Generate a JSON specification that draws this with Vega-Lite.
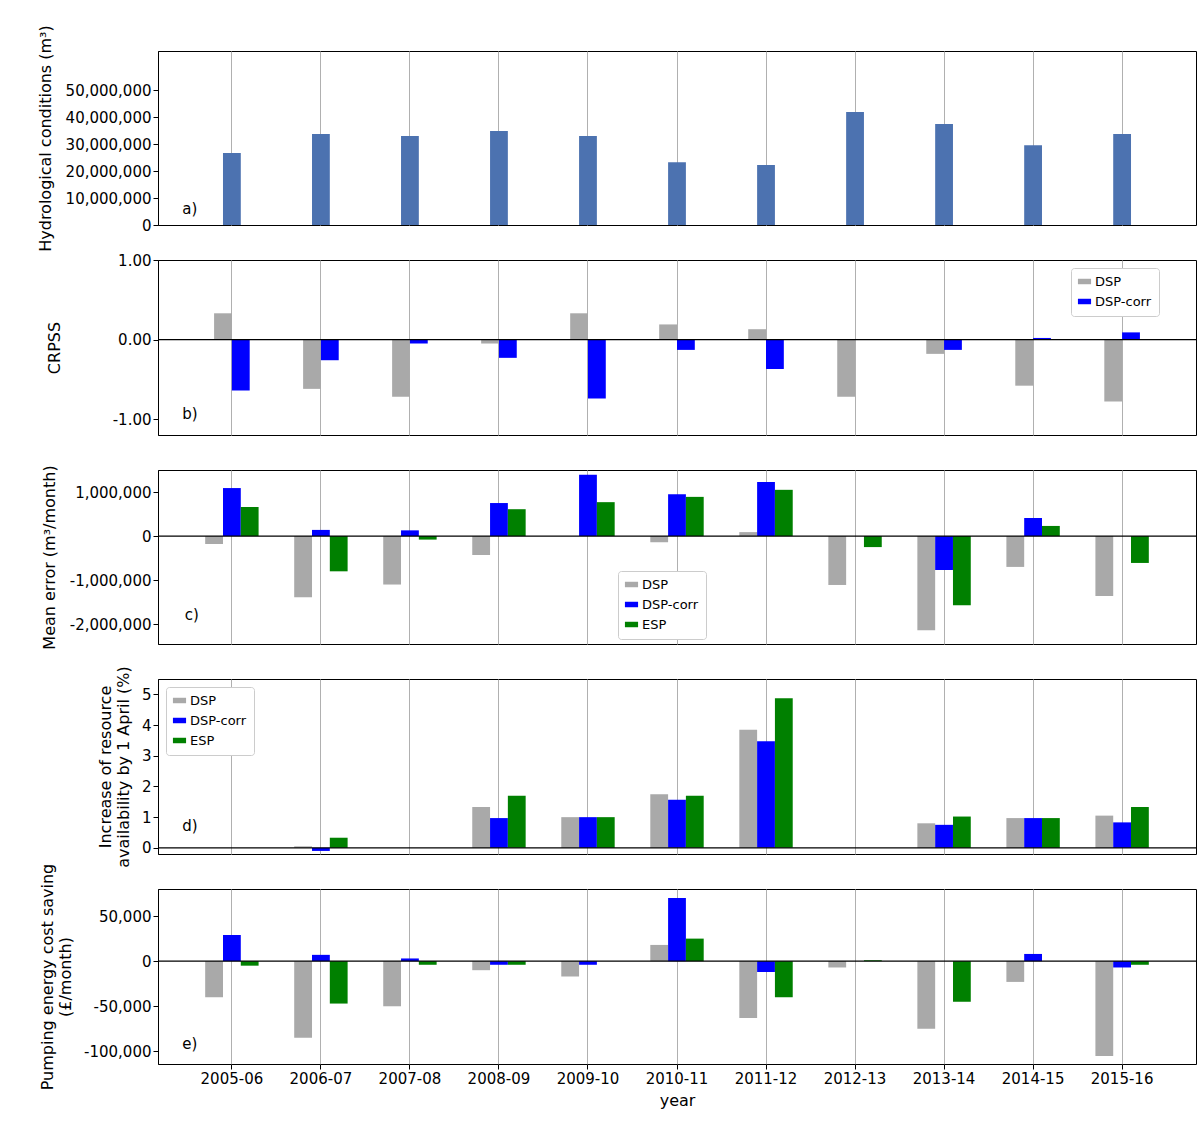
{
  "$schema": "https://vega.github.io/schema/vega-lite/v6.json",
  "background": "white",
  "padding": {"left": 36, "top": 24, "right": 1, "bottom": 5},
  "spacing": 35,
  "bounds": "flush",
  "config": {
    "font": "DejaVu Sans",
    "view": {"stroke": "black", "strokeWidth": 1},
    "axis": {"labelFont": "DejaVu Sans", "titleFont": "DejaVu Sans", "labelFontSize": 15, "titleFontSize": 16, "titleFontWeight": "normal", "labelColor": "black", "titleColor": "black", "tickColor": "black", "domainColor": "black", "grid": false, "labelOverlap": false},
    "axisX": {"bandPosition": 0.5, "minExtent": 0},
    "legend": {"labelFont": "DejaVu Sans", "labelFontSize": 13, "strokeColor": "#cccccc", "padding": 7, "cornerRadius": 3, "fillColor": "white", "symbolType": "M-1.2,-0.5h2.4v1h-2.4z", "symbolSize": 120, "symbolStrokeWidth": 0, "rowPadding": 6}
  },
  "datasets": {
    "one": [{"k": 1}],
    "a": [
      {"year": "2005-06", "value": 26700000}, {"year": "2006-07", "value": 33700000}, {"year": "2007-08", "value": 33000000},
      {"year": "2008-09", "value": 34800000}, {"year": "2009-10", "value": 33000000}, {"year": "2010-11", "value": 23300000},
      {"year": "2011-12", "value": 22200000}, {"year": "2012-13", "value": 41900000}, {"year": "2013-14", "value": 37400000},
      {"year": "2014-15", "value": 29600000}, {"year": "2015-16", "value": 33700000}
    ],
    "b": [
      {"year": "2005-06", "series": "DSP", "value": 0.33}, {"year": "2005-06", "series": "DSP-corr", "value": -0.64},
      {"year": "2006-07", "series": "DSP", "value": -0.62}, {"year": "2006-07", "series": "DSP-corr", "value": -0.26},
      {"year": "2007-08", "series": "DSP", "value": -0.72}, {"year": "2007-08", "series": "DSP-corr", "value": -0.05},
      {"year": "2008-09", "series": "DSP", "value": -0.05}, {"year": "2008-09", "series": "DSP-corr", "value": -0.23},
      {"year": "2009-10", "series": "DSP", "value": 0.33}, {"year": "2009-10", "series": "DSP-corr", "value": -0.74},
      {"year": "2010-11", "series": "DSP", "value": 0.19}, {"year": "2010-11", "series": "DSP-corr", "value": -0.13},
      {"year": "2011-12", "series": "DSP", "value": 0.13}, {"year": "2011-12", "series": "DSP-corr", "value": -0.37},
      {"year": "2012-13", "series": "DSP", "value": -0.72}, {"year": "2012-13", "series": "DSP-corr", "value": 0},
      {"year": "2013-14", "series": "DSP", "value": -0.18}, {"year": "2013-14", "series": "DSP-corr", "value": -0.13},
      {"year": "2014-15", "series": "DSP", "value": -0.58}, {"year": "2014-15", "series": "DSP-corr", "value": 0.02},
      {"year": "2015-16", "series": "DSP", "value": -0.78}, {"year": "2015-16", "series": "DSP-corr", "value": 0.09}
    ],
    "c": [
      {"year": "2005-06", "series": "DSP", "value": -180000}, {"year": "2005-06", "series": "DSP-corr", "value": 1090000}, {"year": "2005-06", "series": "ESP", "value": 660000},
      {"year": "2006-07", "series": "DSP", "value": -1390000}, {"year": "2006-07", "series": "DSP-corr", "value": 140000}, {"year": "2006-07", "series": "ESP", "value": -800000},
      {"year": "2007-08", "series": "DSP", "value": -1100000}, {"year": "2007-08", "series": "DSP-corr", "value": 130000}, {"year": "2007-08", "series": "ESP", "value": -80000},
      {"year": "2008-09", "series": "DSP", "value": -430000}, {"year": "2008-09", "series": "DSP-corr", "value": 750000}, {"year": "2008-09", "series": "ESP", "value": 610000},
      {"year": "2009-10", "series": "DSP", "value": 0}, {"year": "2009-10", "series": "DSP-corr", "value": 1390000}, {"year": "2009-10", "series": "ESP", "value": 770000},
      {"year": "2010-11", "series": "DSP", "value": -140000}, {"year": "2010-11", "series": "DSP-corr", "value": 950000}, {"year": "2010-11", "series": "ESP", "value": 890000},
      {"year": "2011-12", "series": "DSP", "value": 90000}, {"year": "2011-12", "series": "DSP-corr", "value": 1230000}, {"year": "2011-12", "series": "ESP", "value": 1050000},
      {"year": "2012-13", "series": "DSP", "value": -1110000}, {"year": "2012-13", "series": "DSP-corr", "value": 0}, {"year": "2012-13", "series": "ESP", "value": -250000},
      {"year": "2013-14", "series": "DSP", "value": -2140000}, {"year": "2013-14", "series": "DSP-corr", "value": -770000}, {"year": "2013-14", "series": "ESP", "value": -1570000},
      {"year": "2014-15", "series": "DSP", "value": -700000}, {"year": "2014-15", "series": "DSP-corr", "value": 410000}, {"year": "2014-15", "series": "ESP", "value": 230000},
      {"year": "2015-16", "series": "DSP", "value": -1360000}, {"year": "2015-16", "series": "DSP-corr", "value": 0}, {"year": "2015-16", "series": "ESP", "value": -610000}
    ],
    "d": [
      {"year": "2005-06", "series": "DSP", "value": 0}, {"year": "2005-06", "series": "DSP-corr", "value": 0}, {"year": "2005-06", "series": "ESP", "value": 0},
      {"year": "2006-07", "series": "DSP", "value": 0.05}, {"year": "2006-07", "series": "DSP-corr", "value": -0.1}, {"year": "2006-07", "series": "ESP", "value": 0.33},
      {"year": "2007-08", "series": "DSP", "value": 0}, {"year": "2007-08", "series": "DSP-corr", "value": 0}, {"year": "2007-08", "series": "ESP", "value": 0},
      {"year": "2008-09", "series": "DSP", "value": 1.33}, {"year": "2008-09", "series": "DSP-corr", "value": 0.97}, {"year": "2008-09", "series": "ESP", "value": 1.7},
      {"year": "2009-10", "series": "DSP", "value": 1.0}, {"year": "2009-10", "series": "DSP-corr", "value": 1.0}, {"year": "2009-10", "series": "ESP", "value": 1.0},
      {"year": "2010-11", "series": "DSP", "value": 1.75}, {"year": "2010-11", "series": "DSP-corr", "value": 1.57}, {"year": "2010-11", "series": "ESP", "value": 1.7},
      {"year": "2011-12", "series": "DSP", "value": 3.85}, {"year": "2011-12", "series": "DSP-corr", "value": 3.47}, {"year": "2011-12", "series": "ESP", "value": 4.87},
      {"year": "2012-13", "series": "DSP", "value": 0}, {"year": "2012-13", "series": "DSP-corr", "value": 0}, {"year": "2012-13", "series": "ESP", "value": 0},
      {"year": "2013-14", "series": "DSP", "value": 0.8}, {"year": "2013-14", "series": "DSP-corr", "value": 0.75}, {"year": "2013-14", "series": "ESP", "value": 1.02},
      {"year": "2014-15", "series": "DSP", "value": 0.97}, {"year": "2014-15", "series": "DSP-corr", "value": 0.97}, {"year": "2014-15", "series": "ESP", "value": 0.97},
      {"year": "2015-16", "series": "DSP", "value": 1.05}, {"year": "2015-16", "series": "DSP-corr", "value": 0.83}, {"year": "2015-16", "series": "ESP", "value": 1.33}
    ],
    "e": [
      {"year": "2005-06", "series": "DSP", "value": -40000}, {"year": "2005-06", "series": "DSP-corr", "value": 29000}, {"year": "2005-06", "series": "ESP", "value": -5000},
      {"year": "2006-07", "series": "DSP", "value": -85000}, {"year": "2006-07", "series": "DSP-corr", "value": 7000}, {"year": "2006-07", "series": "ESP", "value": -47000},
      {"year": "2007-08", "series": "DSP", "value": -50000}, {"year": "2007-08", "series": "DSP-corr", "value": 3000}, {"year": "2007-08", "series": "ESP", "value": -4000},
      {"year": "2008-09", "series": "DSP", "value": -10000}, {"year": "2008-09", "series": "DSP-corr", "value": -4000}, {"year": "2008-09", "series": "ESP", "value": -4000},
      {"year": "2009-10", "series": "DSP", "value": -17000}, {"year": "2009-10", "series": "DSP-corr", "value": -4000}, {"year": "2009-10", "series": "ESP", "value": 0},
      {"year": "2010-11", "series": "DSP", "value": 18000}, {"year": "2010-11", "series": "DSP-corr", "value": 70000}, {"year": "2010-11", "series": "ESP", "value": 25000},
      {"year": "2011-12", "series": "DSP", "value": -63000}, {"year": "2011-12", "series": "DSP-corr", "value": -12000}, {"year": "2011-12", "series": "ESP", "value": -40000},
      {"year": "2012-13", "series": "DSP", "value": -7000}, {"year": "2012-13", "series": "DSP-corr", "value": 0}, {"year": "2012-13", "series": "ESP", "value": 1000},
      {"year": "2013-14", "series": "DSP", "value": -75000}, {"year": "2013-14", "series": "DSP-corr", "value": 0}, {"year": "2013-14", "series": "ESP", "value": -45000},
      {"year": "2014-15", "series": "DSP", "value": -23000}, {"year": "2014-15", "series": "DSP-corr", "value": 8000}, {"year": "2014-15", "series": "ESP", "value": 0},
      {"year": "2015-16", "series": "DSP", "value": -105000}, {"year": "2015-16", "series": "DSP-corr", "value": -7000}, {"year": "2015-16", "series": "ESP", "value": -4000}
    ]
  },
  "vconcat": [
    {
      "width": 1038, "height": 174,
      "layer": [
        {"data": {"name": "a"}, "mark": {"type": "bar", "color": "#4c72b0"},
         "encoding": {
           "x": {"field": "year", "type": "nominal", "scale": {"paddingInner": 0.8, "paddingOuter": 0.73}, "axis": {"title": null, "labels": false, "ticks": false, "domain": false, "grid": true, "gridColor": "#b0b0b0"}},
           "y": {"field": "value", "type": "quantitative", "scale": {"domain": [0, 64500000], "nice": false}, "axis": {"title": "Hydrological conditions (m³)", "labelExpr": "format(datum.value, ',')", "values": [0, 10000000, 20000000, 30000000, 40000000, 50000000], "labelOverlap": false, "titlePadding": 12}}}},
        {"data": {"name": "one"}, "mark": {"type": "text", "text": "a)", "fontSize": 15, "dx": -42, "align": "center"},
         "encoding": {"x": {"datum": "2005-06", "type": "nominal"}, "y": {"datum": 6000000, "type": "quantitative", "axis": {"title": "Hydrological conditions (m³)", "labelExpr": "format(datum.value, ',')", "values": [0, 10000000, 20000000, 30000000, 40000000, 50000000], "labelOverlap": false, "titlePadding": 12}}}}
      ]
    },
    {
      "width": 1038, "height": 175,
      "layer": [
        {"data": {"name": "b"}, "mark": {"type": "bar"},
         "encoding": {
           "x": {"field": "year", "type": "nominal", "scale": {"paddingInner": 0.6, "paddingOuter": 0.63}, "axis": {"title": null, "labels": false, "ticks": false, "domain": false, "grid": true, "gridColor": "#b0b0b0"}},
           "y": {"field": "value", "type": "quantitative", "scale": {"domain": [-1.2, 1.0], "nice": false}, "axis": {"title": "CRPSS", "labelExpr": "(datum.value < 0 ? '-' : '') + format(abs(datum.value), '.2f')", "values": [-1, 0, 1], "titlePadding": 50}},
           "xOffset": {"field": "series", "scale": {"domain": ["DSP", "DSP-corr"], "paddingInner": 0, "paddingOuter": 0}},
           "color": {"field": "series", "type": "nominal", "scale": {"domain": ["DSP", "DSP-corr"], "range": ["#a9a9a9", "#0000ff"]}, "legend": {"title": null, "orient": "none", "legendX": 913, "legendY": 8}}
         }},
        {"data": {"name": "one"}, "mark": {"type": "rule", "color": "black", "strokeWidth": 1.2}, "encoding": {"y": {"datum": 0, "type": "quantitative"}}},
        {"data": {"name": "one"}, "mark": {"type": "text", "text": "b)", "fontSize": 15, "dx": -42, "align": "center"},
         "encoding": {"x": {"datum": "2005-06", "type": "nominal"}, "y": {"datum": -0.93, "type": "quantitative"}}}
      ]
    },
    {
      "width": 1038, "height": 174,
      "layer": [
        {"data": {"name": "c"}, "mark": {"type": "bar"},
         "encoding": {
           "x": {"field": "year", "type": "nominal", "scale": {"paddingInner": 0.4, "paddingOuter": 0.53}, "axis": {"title": null, "labels": false, "ticks": false, "domain": false, "grid": true, "gridColor": "#b0b0b0"}},
           "y": {"field": "value", "type": "quantitative", "scale": {"domain": [-2450000, 1500000], "nice": false}, "axis": {"title": "Mean error (m³/month)", "labelExpr": "(datum.value < 0 ? '-' : '') + format(abs(datum.value), ',')", "values": [-2000000, -1000000, 0, 1000000], "titlePadding": 12}},
           "xOffset": {"field": "series", "scale": {"domain": ["DSP", "DSP-corr", "ESP"], "paddingInner": 0, "paddingOuter": 0}},
           "color": {"field": "series", "type": "nominal", "scale": {"domain": ["DSP", "DSP-corr", "ESP"], "range": ["#a9a9a9", "#0000ff", "#008000"]}, "legend": {"title": null, "orient": "none", "legendX": 460, "legendY": 101}}
         }},
        {"data": {"name": "one"}, "mark": {"type": "rule", "color": "black", "strokeWidth": 1.2}, "encoding": {"y": {"datum": 0, "type": "quantitative"}}},
        {"data": {"name": "one"}, "mark": {"type": "text", "text": "c)", "fontSize": 15, "dx": -40, "align": "center"},
         "encoding": {"x": {"datum": "2005-06", "type": "nominal"}, "y": {"datum": -1800000, "type": "quantitative"}}}
      ]
    },
    {
      "width": 1038, "height": 175,
      "layer": [
        {"data": {"name": "d"}, "mark": {"type": "bar"},
         "encoding": {
           "x": {"field": "year", "type": "nominal", "scale": {"paddingInner": 0.4, "paddingOuter": 0.53}, "axis": {"title": null, "labels": false, "ticks": false, "domain": false, "grid": true, "gridColor": "#b0b0b0"}},
           "y": {"field": "value", "type": "quantitative", "scale": {"domain": [-0.2, 5.5], "nice": false}, "axis": {"title": ["Increase of resource", "availability by 1 April (%)"], "labelExpr": "format(datum.value, 'd')", "values": [0, 1, 2, 3, 4, 5], "labelOverlap": false, "titlePadding": 10}},
           "xOffset": {"field": "series", "scale": {"domain": ["DSP", "DSP-corr", "ESP"], "paddingInner": 0, "paddingOuter": 0}},
           "color": {"field": "series", "type": "nominal", "scale": {"domain": ["DSP", "DSP-corr", "ESP"], "range": ["#a9a9a9", "#0000ff", "#008000"]}, "legend": {"title": null, "orient": "none", "legendX": 8, "legendY": 8}}
         }},
        {"data": {"name": "one"}, "mark": {"type": "rule", "color": "black", "strokeWidth": 1.2}, "encoding": {"y": {"datum": 0, "type": "quantitative", "axis": {"title": ["Increase of resource", "availability by 1 April (%)"], "labelExpr": "format(datum.value, 'd')", "values": [0, 1, 2, 3, 4, 5], "labelOverlap": false, "titlePadding": 10}}}},
        {"data": {"name": "one"}, "mark": {"type": "text", "text": "d)", "fontSize": 15, "dx": -42, "align": "center"},
         "encoding": {"x": {"datum": "2005-06", "type": "nominal"}, "y": {"datum": 0.7, "type": "quantitative", "axis": {"title": ["Increase of resource", "availability by 1 April (%)"], "labelExpr": "format(datum.value, 'd')", "values": [0, 1, 2, 3, 4, 5], "labelOverlap": false, "titlePadding": 10}}}}
      ]
    },
    {
      "width": 1038, "height": 175,
      "layer": [
        {"data": {"name": "e"}, "mark": {"type": "bar"},
         "encoding": {
           "x": {"field": "year", "type": "nominal", "scale": {"paddingInner": 0.4, "paddingOuter": 0.53}, "axis": {"title": "year", "labelAngle": 0, "domain": false, "grid": true, "gridColor": "#b0b0b0", "titlePadding": 6}},
           "y": {"field": "value", "type": "quantitative", "scale": {"domain": [-114000, 80000], "nice": false}, "axis": {"title": ["Pumping energy cost saving", "(£/month)"], "labelExpr": "(datum.value < 0 ? '-' : '') + format(abs(datum.value), ',')", "values": [-100000, -50000, 0, 50000], "titlePadding": 10}},
           "xOffset": {"field": "series", "scale": {"domain": ["DSP", "DSP-corr", "ESP"], "paddingInner": 0, "paddingOuter": 0}},
           "color": {"field": "series", "type": "nominal", "scale": {"domain": ["DSP", "DSP-corr", "ESP"], "range": ["#a9a9a9", "#0000ff", "#008000"]}, "legend": null}
         }},
        {"data": {"name": "one"}, "mark": {"type": "rule", "color": "black", "strokeWidth": 1.2}, "encoding": {"y": {"datum": 0, "type": "quantitative"}}},
        {"data": {"name": "one"}, "mark": {"type": "text", "text": "e)", "fontSize": 15, "dx": -42, "align": "center"},
         "encoding": {"x": {"datum": "2005-06", "type": "nominal"}, "y": {"datum": -92000, "type": "quantitative"}}}
      ]
    }
  ],
  "resolve": {"scale": {"color": "independent", "x": "independent", "y": "independent", "xOffset": "independent"}}
}
